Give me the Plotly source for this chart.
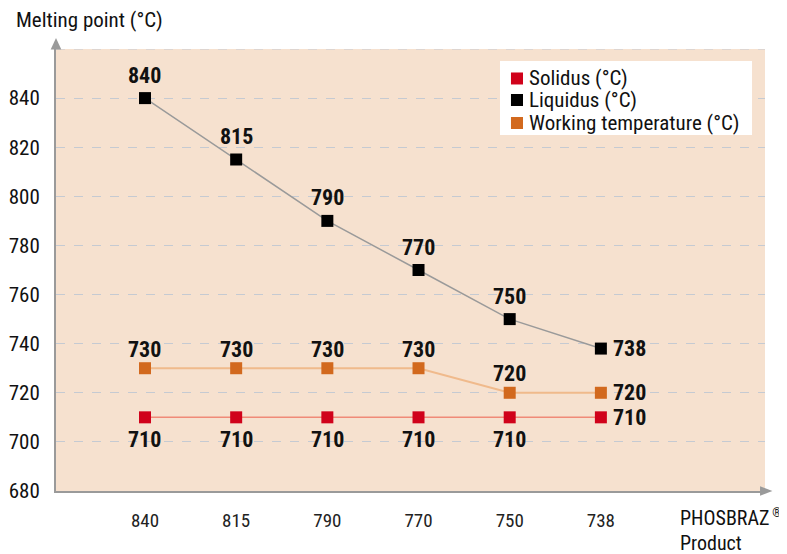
import plotly.graph_objects as go

products = ["840", "815", "790", "770", "750", "738"]
solidus = [710, 710, 710, 710, 710, 710]
liquidus = [840, 815, 790, 770, 750, 738]
working = [730, 730, 730, 730, 720, 720]
y_ticks = [680, 700, 720, 740, 760, 780, 800, 820, 840]
y_top = 860

FONT = "Roboto Condensed, Liberation Sans Narrow, DejaVu Sans Condensed, Roboto, sans-serif"
BG = "#F6E1CF"
AXIS = "#9A9A9A"
GRID = "#C5CAD2"

series = [
    ("Solidus (°C)", solidus, "#D0021B", "#F08A78", 1.5, "below"),
    ("Liquidus (°C)", liquidus, "#000000", "#9A9A9A", 1.5, "above"),
    ("Working temperature (°C)", working, "#D2691E", "#F0BA8C", 2, "above"),
]

xs = list(range(len(products)))
fig = go.Figure()
annotations = []
LBL = dict(family=FONT, size=22, color="#111111", weight="bold")
for name, vals, mcol, lcol, lw, pos in series:
    fig.add_trace(go.Scatter(
        x=xs, y=vals, mode="lines+markers", showlegend=False,
        line=dict(color=lcol, width=lw),
        marker=dict(symbol="square", size=12, color=mcol),
        hoverinfo="skip"))
    for i, v in enumerate(vals):
        last = i == len(vals) - 1
        if last:
            annotations.append(dict(x=xs[i], y=v, text=str(v), showarrow=False,
                                    xanchor="left", yanchor="middle", xshift=10,
                                    font=LBL))
        else:
            ys = {"below": -22, "above": 23 if name.startswith("Liq") else 19}[pos]
            annotations.append(dict(x=xs[i], y=v, text=str(v), showarrow=False,
                                    xanchor="center", yanchor="middle", yshift=ys,
                                    font=LBL))

annotations += [
    dict(xref="paper", yref="paper", x=-0.0592, y=1.066, xanchor="left", yanchor="middle",
         text="Melting point (°C)", showarrow=False,
         font=dict(family=FONT, size=21, color="#111111")),
    dict(xref="paper", yref="paper", x=0.8773, y=-0.061, xanchor="left", yanchor="middle",
         text="PHOSBRAZ<sup><span style='font-size:12px'> ®</span></sup>", showarrow=False,
         font=dict(family=FONT, size=20, color="#111111")),
    dict(xref="paper", yref="paper", x=0.8773, y=-0.117, xanchor="left", yanchor="middle",
         text="Product", showarrow=False,
         font=dict(family=FONT, size=20, color="#111111")),
]

shapes = [
    # top gridline
    dict(type="line", xref="paper", yref="y", x0=0, x1=1, y0=y_top, y1=y_top,
         line=dict(color=GRID, width=1, dash="dash"), layer="below"),
    # y-axis arrow head
    dict(type="path", xref="paper", yref="paper",
         path="M -0.0075 0.999 L 0.0075 0.999 L 0 1.025 Z",
         fillcolor=AXIS, line=dict(width=0)),
    # x-axis arrow head
    dict(type="path", xref="paper", yref="paper",
         path="M 0.993 0.011 L 0.993 -0.011 L 1.0105 0 Z",
         fillcolor=AXIS, line=dict(width=0)),
    # legend box
    dict(type="rect", xref="paper", yref="paper", x0=0.6262, x1=0.9817, y0=0.8054, y1=0.9729,
         fillcolor="white", line=dict(width=0)),
]

# custom legend (square swatch + label)
leg_rows = [0.9333, 0.8846, 0.8326]
for (name, vals, mcol, lcol, lw, pos), ry in zip(series, leg_rows):
    shapes.append(dict(type="rect", xref="paper", yref="paper",
                       x0=0.6417, x1=0.6587, y0=ry - 0.01357, y1=ry + 0.01357,
                       fillcolor=mcol, line=dict(width=0)))
    annotations.append(dict(xref="paper", yref="paper", x=0.6643, y=ry,
                            xanchor="left", yanchor="middle", text=name, showarrow=False,
                            font=dict(family=FONT, size=21, color="#111111")))

fig.update_layout(
    width=787, height=554,
    margin=dict(l=48, r=30, t=41, b=71),
    paper_bgcolor="white", plot_bgcolor=BG,
    font=dict(family=FONT, color="#111111"),
    showlegend=False,
    annotations=annotations, shapes=shapes,
    xaxis=dict(range=[-0.976, 6.8], tickvals=xs, ticktext=products,
               showgrid=False, zeroline=False, ticks="", automargin=False,
               showline=True, linecolor=AXIS, linewidth=2,
               tickfont=dict(family=FONT, size=19, color="#222222"),
               ticklabelstandoff=11),
    yaxis=dict(range=[680, 860], tickvals=y_ticks,
               showgrid=True, gridcolor=GRID, griddash="dash", gridwidth=1,
               zeroline=False, ticks="", automargin=False,
               showline=True, linecolor=AXIS, linewidth=2,
               tickfont=dict(family=FONT, size=21, color="#111111"),
               ticklabelstandoff=10),
)

fig.write_html("out.html")
